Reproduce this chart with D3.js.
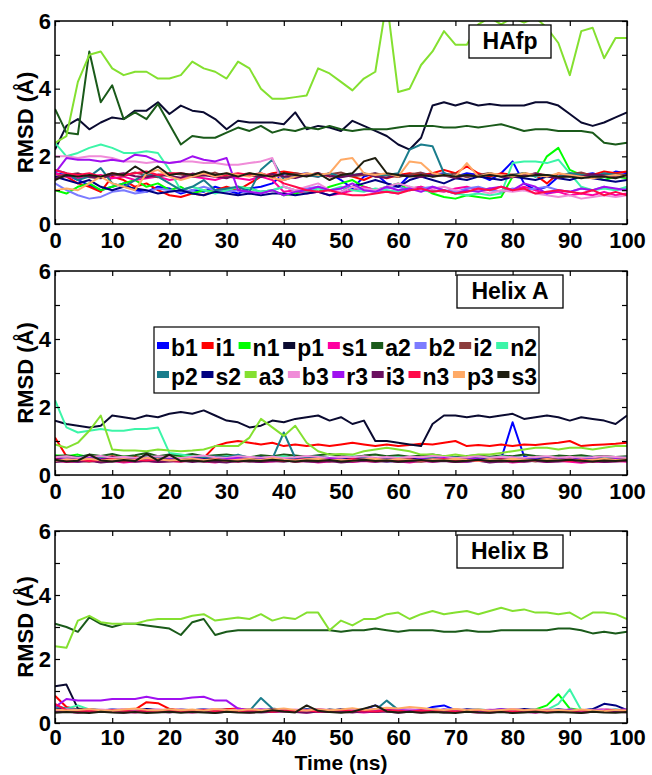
<!DOCTYPE html>
<html>
<head>
<meta charset="utf-8">
<script src="https://cdnjs.cloudflare.com/ajax/libs/d3/7.8.5/d3.min.js"></script>
<style>
	body { margin: 0; background: #fff; }
	svg { display: block; }
	text { font-family: "Liberation Sans", Arial, Helvetica, sans-serif; font-weight: bold; fill: #000; }
</style>
</head>
<body>
<svg id="rmsd-svg"></svg>
<script>
'use strict'

var timeNs = [0,2,4,6,8,10,12,14,16,18,20,22,24,26,28,30,32,34,36,38,40,42,44,46,48,50,52,54,56,58,60,62,64,66,68,70,72,74,76,78,80,82,84,86,88,90,92,94,96,98,100];
var xTicks = [0,10,20,30,40,50,60,70,80,90,100];
var yTicks = [0,1,2,3,4,5,6];
var yLabels = [0,2,4,6];
var panelTitles = ['HAfp', 'Helix A', 'Helix B'];

var seriesNames = ['b1','i1','n1','p1','s1','a2','b2','i2','n2','p2','s2','a3','b3','r3','i3','n3','p3','s3'];
var seriesColors = ['#0000ff','#ff0000','#00ff00','#0a0a30','#ff00a0','#1a5a1a','#7b7bff','#8c3c3c','#3cf5a8','#1a7d8c','#000080','#84e030','#f08cd8','#a010f0','#6b0f5f','#ff0a4a','#ffaa66','#1e1e10'];

// ---- HAfp ----
var hafp_b1 = [1.50,1.45,1.30,1.15,1.00,1.10,1.20,1.00,0.95,1.10, 1.05,0.90,1.00,0.95,1.10,1.00,0.90,1.05,1.10,1.20, 1.50,1.45,1.50,1.40,1.50,1.30,1.05,1.40,1.50,1.20, 1.10,1.45,1.50,1.45,1.50,1.40,1.50,1.45,1.30,1.50, 1.85,1.20,1.00,1.10,1.40,1.50,1.45,1.50,1.40,1.55, 1.50];
var hafp_i1 = [1.50,1.40,1.20,1.10,0.95,1.40,1.30,1.10,1.20,1.00, 0.85,0.80,0.90,0.85,1.00,1.10,1.00,1.20,1.40,1.50, 1.55,1.50,1.45,1.50,1.40,1.45,1.40,1.30,1.45,1.35, 1.45,1.50,1.45,1.50,1.60,1.50,1.70,1.50,1.40,1.50, 1.45,1.50,1.45,1.20,1.50,1.40,1.50,1.45,1.55,1.50, 1.55];
var hafp_n1 = [1.00,0.90,1.10,1.20,1.00,1.10,1.20,1.30,1.10,1.20, 1.00,1.10,0.90,1.00,0.95,1.00,1.10,1.05,0.95,1.00, 0.85,0.90,1.00,0.95,1.10,1.20,1.30,1.10,1.00,1.10, 1.20,1.00,1.10,0.90,0.80,0.75,0.85,0.80,0.75,0.80, 1.40,1.50,1.40,2.00,2.25,1.60,1.45,1.40,1.30,1.40, 1.35];
var hafp_p1 = [2.20,2.90,3.10,2.80,3.00,3.15,3.10,3.35,3.35,3.60, 3.25,3.50,3.35,3.30,3.10,2.80,3.05,3.00,3.00,3.00, 2.95,3.30,2.80,2.90,2.85,2.75,3.05,2.90,2.75,2.60, 2.35,2.20,2.55,3.50,3.60,3.50,3.60,3.50,3.55,3.50, 3.50,3.50,3.60,3.60,3.50,3.25,3.00,2.90,3.00,3.15, 3.30];
var hafp_s1 = [1.50,1.40,1.35,1.40,1.45,1.35,1.40,1.30,1.35,1.40, 1.30,1.35,1.40,1.35,1.30,1.40,1.35,1.30,1.40,1.30, 0.95,1.00,0.90,0.95,0.85,0.90,1.00,1.10,1.00,0.95, 0.90,1.05,1.10,1.00,0.95,1.05,1.10,1.00,1.05,0.95, 1.00,1.10,1.00,0.90,0.95,0.85,0.90,0.85,0.95,0.85, 0.90];
var hafp_a2 = [3.40,2.70,2.65,5.10,3.60,4.10,3.10,3.30,3.10,3.55, 2.95,2.35,2.60,2.55,2.55,2.70,2.85,2.75,2.90,2.70, 2.80,2.75,2.85,2.80,2.90,2.80,2.75,2.80,2.80,2.80, 2.85,2.90,2.90,2.90,2.85,2.85,2.90,2.85,2.90,2.95, 2.85,2.75,2.80,2.80,2.75,2.75,2.75,2.70,2.40,2.35, 2.40];
var hafp_b2 = [1.20,1.00,0.85,0.75,0.80,0.95,1.00,0.90,0.95,1.05, 1.00,0.95,1.00,1.10,1.00,0.95,1.00,0.90,0.95,1.00, 1.10,1.00,1.05,1.10,1.00,1.05,1.10,1.00,0.95,1.05, 1.10,1.00,1.05,1.10,1.00,0.95,1.05,1.10,1.00,0.95, 1.05,1.00,1.05,1.10,1.00,0.95,1.05,1.00,1.10,1.00, 1.05];
var hafp_i2 = [1.40,1.45,1.50,1.38,1.35,1.47,1.42,1.52,1.44,1.38, 1.50,1.46,1.40,1.43,1.52,1.39,1.45,1.50,1.41,1.46, 1.38,1.50,1.44,1.40,1.47,1.52,1.41,1.45,1.50,1.43, 1.39,1.46,1.52,1.40,1.44,1.49,1.38,1.45,1.51,1.42, 1.46,1.40,1.50,1.44,1.39,1.47,1.52,1.41,1.45,1.48, 1.43];
var hafp_n2 = [2.40,2.00,2.10,2.25,2.35,2.25,2.10,2.10,2.15,2.10, 1.60,1.00,1.10,1.00,0.90,1.00,1.10,1.05,0.95,1.00, 1.10,1.00,0.95,1.05,1.00,1.10,1.00,0.95,1.05,1.00, 0.95,1.10,1.00,0.95,1.00,0.90,0.85,0.90,0.85,0.90, 1.80,1.85,1.85,1.80,1.90,1.50,1.10,1.00,1.05,1.00, 1.10];
var hafp_p2 = [1.60,1.50,1.30,1.40,1.65,1.20,1.10,1.30,1.50,1.40, 1.20,1.00,1.10,1.30,1.00,1.05,1.10,0.95,1.60,1.90, 1.30,1.40,1.45,1.40,1.50,1.40,1.45,1.50,1.40,1.45, 1.50,2.20,2.35,2.30,1.50,1.40,1.45,1.40,1.50,1.40, 1.45,1.50,1.40,1.45,1.40,1.50,1.45,1.40,1.50,1.45, 1.40];
var hafp_s2 = [1.40,1.30,1.20,1.30,1.10,1.00,1.10,1.05,1.00,0.90, 0.95,1.00,0.90,0.85,0.95,0.90,0.85,0.90,0.85,0.90, 0.90,0.85,0.90,0.95,0.85,0.95,1.10,1.20,1.30,1.20, 1.10,1.30,1.40,1.30,1.20,1.35,1.30,1.40,1.35,1.30, 1.40,1.35,1.30,1.40,1.35,1.30,1.40,1.35,1.30,1.25, 1.30];
var hafp_a3 = [2.40,2.60,4.20,5.00,5.10,4.60,4.40,4.50,4.50,4.30, 4.30,4.40,4.80,4.60,4.50,4.30,4.80,4.60,4.00,3.70, 3.70,3.75,3.80,4.60,4.45,4.20,3.95,4.30,4.50,6.60, 3.90,4.00,4.70,5.10,5.70,5.30,5.30,5.90,6.10,5.90, 6.10,5.95,6.10,5.80,5.35,4.40,5.70,5.80,4.90,5.50, 5.50];
var hafp_b3 = [2.00,2.00,1.95,2.00,2.00,1.95,1.85,1.85,1.80,1.85, 1.80,1.85,1.85,1.80,1.80,1.75,1.75,1.80,1.85,1.95, 1.10,1.00,1.10,1.20,1.00,0.95,1.10,1.05,1.00,1.10, 1.20,1.10,1.00,1.05,1.10,1.00,0.95,1.00,0.90,1.00, 0.95,1.00,0.90,0.85,0.80,0.85,0.75,0.80,0.85,0.80, 0.85];
var hafp_r3 = [1.50,1.95,1.90,1.90,1.85,1.90,1.85,2.05,2.00,1.85, 1.80,1.85,2.00,1.90,1.85,1.95,1.00,0.95,0.90,1.00, 0.85,0.95,1.00,1.10,1.00,1.05,1.20,1.00,0.95,1.10, 1.00,1.05,0.95,1.10,1.00,0.90,1.00,0.95,1.05,1.10, 1.00,1.20,1.10,0.90,1.00,0.95,1.05,1.00,1.10,1.05, 1.00];
var hafp_i3 = [1.35,1.42,1.48,1.40,1.36,1.45,1.50,1.41,1.38,1.46, 1.42,1.37,1.49,1.44,1.40,1.35,1.47,1.43,1.39,1.48, 1.41,1.36,1.45,1.50,1.42,1.38,1.44,1.49,1.40,1.37, 1.46,1.42,1.39,1.48,1.43,1.36,1.45,1.41,1.47,1.40, 1.38,1.44,1.49,1.42,1.36,1.45,1.40,1.47,1.43,1.38, 1.42];
var hafp_n3 = [1.60,1.50,1.45,1.50,1.40,1.50,1.45,1.50,1.55,1.45, 1.50,1.50,1.45,1.50,1.40,1.45,1.50,1.45,1.50,1.40, 1.20,1.10,1.00,0.95,1.00,0.90,0.85,0.85,0.90,0.95, 0.90,1.00,1.05,0.95,1.00,0.90,0.95,1.05,1.00,1.10, 1.00,1.05,0.90,0.95,1.00,0.95,0.90,1.00,0.85,0.95, 0.85];
var hafp_p3 = [1.00,1.05,1.00,1.20,1.40,1.20,1.10,1.00,1.50,1.60, 1.40,1.30,1.40,1.50,1.40,1.50,1.45,1.40,1.50,1.35, 1.30,1.40,1.50,1.45,1.50,1.90,1.95,1.50,1.45,1.50, 1.40,1.85,1.80,1.50,1.45,1.40,1.80,1.40,1.50,1.45, 1.40,1.50,1.45,1.40,1.50,1.45,1.40,1.35,1.40,1.45, 1.40];
var hafp_s3 = [1.30,1.45,1.40,1.45,1.40,1.50,1.45,1.70,1.50,1.70, 1.45,1.50,1.45,1.55,1.45,1.50,1.40,1.50,1.45,1.40, 1.50,1.45,1.40,1.50,1.30,1.45,1.50,1.85,1.95,1.50, 1.45,1.40,1.45,1.40,1.45,1.40,1.45,1.40,1.45,1.40, 1.45,1.40,1.45,1.45,1.40,1.40,1.35,1.40,1.40,1.35, 1.45];

// ---- Helix A ----
var helixA_b1 = [0.45,0.42,0.40,0.44,0.41,0.43,0.40,0.45,0.42,0.44, 0.41,0.43,0.46,0.42,0.40,0.44,0.43,0.41,0.45,0.42, 0.44,0.40,0.43,0.45,0.42,0.41,0.44,0.46,0.43,0.40, 0.42,0.45,0.43,0.41,0.44,0.42,0.40,0.43,0.45,0.48, 1.55,0.55,0.42,0.44,0.41,0.43,0.40,0.42,0.44,0.41, 0.43];
var helixA_i1 = [1.10,0.55,0.50,0.52,0.48,0.55,0.50,0.53,0.49,0.51, 0.50,0.48,0.52,0.50,0.85,0.95,1.00,0.95,0.90,0.95, 0.85,0.90,0.85,0.90,0.85,0.90,0.95,0.90,0.85,0.90, 0.85,0.88,0.92,0.90,0.95,1.00,0.85,0.88,0.85,0.90, 0.85,0.90,0.88,0.92,0.95,1.00,0.85,0.88,0.90,0.92, 0.95];
var helixA_n1 = [0.58,0.55,0.60,0.52,0.50,0.48,0.55,0.50,0.52,0.48, 0.50,0.55,0.50,0.48,0.52,0.50,0.47,0.50,0.53,0.49, 0.50,0.47,0.52,0.50,0.48,0.51,0.53,0.49,0.50,0.47, 0.50,0.52,0.48,0.50,0.53,0.49,0.47,0.50,0.52,0.49, 0.51,0.48,0.50,0.53,0.49,0.47,0.50,0.52,0.48,0.50, 0.51];
var helixA_p1 = [1.60,1.50,1.45,1.40,1.45,1.75,1.70,1.65,1.75,1.70, 1.80,1.85,1.80,1.90,1.75,1.60,1.55,1.40,1.45,1.60, 1.55,1.65,1.70,1.75,1.60,1.70,1.50,1.60,1.00,1.00, 0.95,0.90,0.85,1.50,1.75,1.75,1.70,1.75,1.70,1.75, 1.80,1.65,1.70,1.75,1.70,1.60,1.70,1.65,1.60,1.50, 1.75];
var helixA_s1 = [0.42,0.38,0.40,0.43,0.39,0.41,0.37,0.40,0.42,0.38, 0.41,0.39,0.43,0.40,0.37,0.41,0.39,0.42,0.38,0.40, 0.43,0.39,0.41,0.37,0.40,0.42,0.38,0.41,0.39,0.43, 0.40,0.37,0.41,0.39,0.42,0.38,0.40,0.43,0.39,0.41, 0.37,0.40,0.42,0.38,0.41,0.39,0.36,0.40,0.38,0.41, 0.39];
var helixA_a2 = [0.55,0.58,0.52,0.60,0.56,0.62,0.54,0.58,0.65,0.55, 0.60,0.57,0.62,0.55,0.58,0.60,0.56,0.52,0.58,0.55, 0.60,0.57,0.54,0.58,0.62,0.56,0.53,0.57,0.60,0.55, 0.58,0.54,0.57,0.60,0.55,0.52,0.56,0.58,0.54,0.57, 0.55,0.60,0.56,0.53,0.57,0.55,0.58,0.54,0.56,0.53, 0.55];
var helixA_b2 = [0.48,0.45,0.43,0.47,0.44,0.46,0.42,0.45,0.48,0.44, 0.46,0.43,0.45,0.47,0.44,0.42,0.46,0.45,0.43,0.47, 0.44,0.46,0.48,0.43,0.45,0.47,0.44,0.42,0.46,0.45, 0.43,0.47,0.45,0.44,0.46,0.42,0.45,0.48,0.44,0.46, 0.43,0.45,0.47,0.44,0.42,0.46,0.45,0.43,0.47,0.44, 0.46];
var helixA_i2 = [0.40,0.43,0.41,0.39,0.44,0.42,0.40,0.43,0.41,0.45, 0.42,0.40,0.44,0.41,0.39,0.43,0.42,0.40,0.44,0.41, 0.43,0.39,0.42,0.44,0.40,0.43,0.41,0.45,0.42,0.40, 0.44,0.41,0.39,0.43,0.42,0.40,0.44,0.41,0.43,0.39, 0.42,0.44,0.40,0.43,0.41,0.45,0.42,0.40,0.44,0.41, 0.43];
var helixA_n2 = [2.20,1.40,1.25,1.30,1.35,1.30,1.30,1.35,1.35,1.40, 0.65,0.60,0.55,0.52,0.50,0.55,0.52,0.50,0.48,0.52, 0.55,0.50,0.53,0.48,0.50,0.52,0.55,0.50,0.47,0.50, 0.52,0.48,0.50,0.53,0.55,0.50,0.48,0.52,0.50,0.55, 0.52,0.50,0.48,0.52,0.50,0.47,0.50,0.53,0.50,0.48, 0.50];
var helixA_p2 = [0.50,0.48,0.52,0.55,0.50,0.47,0.52,0.50,0.55,0.52, 0.50,0.48,0.53,0.50,0.55,0.52,0.60,0.50,0.52,0.48, 1.25,0.50,0.52,0.55,0.50,0.48,0.52,0.50,0.47,0.52, 0.50,0.53,0.48,0.50,0.55,0.52,0.50,0.48,0.52,0.50, 0.53,0.50,0.48,0.52,0.50,0.47,0.50,0.52,0.48,0.50, 0.52];
var helixA_s2 = [0.50,0.47,0.45,0.49,0.46,0.52,0.48,0.45,0.50,0.47, 0.44,0.49,0.51,0.46,0.48,0.45,0.50,0.47,0.52,0.46, 0.49,0.45,0.48,0.51,0.47,0.44,0.50,0.48,0.46,0.52, 0.47,0.49,0.45,0.48,0.50,0.46,0.53,0.48,0.45,0.49, 0.52,0.47,0.45,0.50,0.48,0.46,0.49,0.52,0.47,0.45, 0.48];
var helixA_a3 = [0.90,0.80,0.95,1.30,1.75,0.75,0.72,0.72,0.70,0.75, 0.72,0.70,0.72,0.75,0.85,0.85,0.85,1.10,1.65,1.40, 1.15,1.45,0.95,0.70,0.60,0.62,0.60,0.70,0.75,0.80, 0.75,0.70,0.60,0.60,0.55,0.60,0.55,0.60,0.60,0.65, 0.70,0.75,0.80,0.80,0.75,0.80,0.80,0.75,0.80,0.85, 0.85];
var helixA_b3 = [0.52,0.55,0.50,0.53,0.56,0.51,0.54,0.50,0.52,0.55, 0.53,0.50,0.54,0.57,0.52,0.50,0.55,0.53,0.51,0.54, 0.50,0.52,0.56,0.53,0.50,0.54,0.52,0.55,0.51,0.53, 0.50,0.54,0.52,0.56,0.53,0.50,0.52,0.55,0.51,0.54, 0.52,0.50,0.53,0.55,0.51,0.54,0.50,0.52,0.55,0.53, 0.51];
var helixA_r3 = [0.45,0.48,0.44,0.50,0.46,0.43,0.47,0.45,0.49,0.44, 0.46,0.42,0.48,0.45,0.43,0.47,0.50,0.44,0.46,0.48, 0.43,0.45,0.47,0.44,0.49,0.46,0.42,0.45,0.48,0.44, 0.46,0.43,0.47,0.45,0.50,0.44,0.46,0.48,0.43,0.45, 0.47,0.44,0.46,0.42,0.45,0.48,0.44,0.46,0.43,0.47, 0.45];
var helixA_i3 = [0.38,0.41,0.39,0.42,0.37,0.40,0.43,0.39,0.41,0.38, 0.40,0.42,0.38,0.41,0.39,0.37,0.42,0.40,0.38,0.41, 0.39,0.43,0.40,0.38,0.41,0.37,0.40,0.42,0.39,0.41, 0.38,0.40,0.43,0.39,0.41,0.38,0.40,0.42,0.37,0.40, 0.41,0.39,0.42,0.38,0.40,0.43,0.39,0.41,0.38,0.40, 0.42];
var helixA_n3 = [0.46,0.43,0.45,0.41,0.44,0.47,0.42,0.45,0.43,0.46, 0.44,0.41,0.45,0.43,0.47,0.42,0.44,0.46,0.43,0.45, 0.41,0.44,0.46,0.42,0.45,0.43,0.47,0.44,0.41,0.45, 0.43,0.46,0.42,0.44,0.47,0.43,0.45,0.41,0.44,0.46, 0.42,0.45,0.43,0.47,0.44,0.41,0.45,0.43,0.46,0.42, 0.44];
var helixA_p3 = [0.42,0.46,0.44,0.48,0.43,0.45,0.47,0.44,0.50,0.46, 0.43,0.45,0.48,0.44,0.46,0.42,0.45,0.47,0.44,0.49, 0.45,0.43,0.46,0.48,0.44,0.45,0.42,0.46,0.48,0.44, 0.47,0.45,0.43,0.46,0.44,0.48,0.45,0.42,0.46,0.44, 0.48,0.45,0.43,0.47,0.44,0.46,0.42,0.45,0.48,0.44, 0.46];
var helixA_s3 = [0.45,0.40,0.42,0.60,0.43,0.40,0.44,0.41,0.62,0.42, 0.60,0.41,0.43,0.40,0.44,0.42,0.40,0.43,0.41,0.45, 0.42,0.40,0.43,0.41,0.44,0.40,0.42,0.45,0.41,0.43, 0.40,0.42,0.44,0.41,0.43,0.40,0.42,0.45,0.41,0.43, 0.40,0.42,0.44,0.41,0.43,0.45,0.42,0.40,0.43,0.41, 0.44];

// ---- Helix B ----
var helixB_b1 = [0.40,0.38,0.36,0.39,0.41,0.37,0.40,0.38,0.36,0.39, 0.41,0.38,0.40,0.37,0.39,0.42,0.38,0.36,0.40,0.38, 0.41,0.37,0.39,0.40,0.38,0.36,0.40,0.42,0.55,0.40, 0.38,0.41,0.37,0.50,0.55,0.40,0.38,0.36,0.39,0.41, 0.38,0.40,0.37,0.39,0.41,0.38,0.40,0.42,0.39,0.37, 0.40];
var helixB_i1 = [0.85,0.50,0.42,0.40,0.38,0.41,0.39,0.42,0.65,0.62, 0.44,0.40,0.38,0.41,0.39,0.43,0.45,0.40,0.38,0.41, 0.39,0.37,0.40,0.38,0.41,0.39,0.37,0.40,0.38,0.41, 0.39,0.37,0.40,0.38,0.36,0.39,0.41,0.38,0.40,0.37, 0.39,0.41,0.38,0.36,0.39,0.41,0.38,0.40,0.42,0.39, 0.41];
var helixB_n1 = [0.45,0.40,0.38,0.41,0.39,0.37,0.40,0.38,0.36,0.39, 0.41,0.38,0.40,0.37,0.39,0.38,0.36,0.40,0.38,0.41, 0.39,0.37,0.40,0.38,0.36,0.39,0.41,0.38,0.37,0.39, 0.41,0.38,0.36,0.39,0.40,0.38,0.37,0.39,0.41,0.38, 0.40,0.38,0.42,0.55,0.90,0.45,0.40,0.38,0.39,0.37, 0.40];
var helixB_p1 = [1.15,1.20,0.45,0.40,0.38,0.42,0.40,0.37,0.41,0.39, 0.42,0.38,0.40,0.43,0.39,0.41,0.38,0.40,0.42,0.39, 0.41,0.38,0.40,0.37,0.42,0.39,0.41,0.38,0.40,0.43, 0.39,0.41,0.38,0.40,0.37,0.42,0.39,0.41,0.38,0.40, 0.42,0.39,0.41,0.38,0.40,0.37,0.41,0.39,0.42,0.40, 0.38];
var helixB_s1 = [0.38,0.35,0.33,0.36,0.34,0.37,0.35,0.33,0.36,0.34, 0.37,0.35,0.33,0.36,0.38,0.34,0.35,0.33,0.36,0.34, 0.37,0.35,0.33,0.36,0.34,0.37,0.35,0.33,0.36,0.38, 0.34,0.35,0.33,0.36,0.34,0.37,0.35,0.33,0.36,0.34, 0.37,0.35,0.33,0.36,0.34,0.37,0.35,0.38,0.36,0.34, 0.37];
var helixB_a2 = [3.10,3.00,2.85,3.30,3.10,3.00,3.10,3.10,3.05,3.00, 2.95,2.75,3.15,3.25,2.75,2.85,2.90,2.90,2.90,2.90, 2.90,2.90,2.90,2.90,2.90,2.85,2.90,2.90,2.95,2.90, 2.85,2.90,2.90,2.90,2.85,2.85,2.90,2.85,2.85,2.90, 2.90,2.90,2.90,2.90,2.95,2.95,2.90,2.80,2.85,2.80, 2.85];
var helixB_b2 = [0.42,0.40,0.38,0.41,0.39,0.43,0.40,0.38,0.42,0.39, 0.41,0.38,0.40,0.43,0.39,0.41,0.38,0.42,0.40,0.37, 0.41,0.39,0.43,0.40,0.38,0.42,0.39,0.41,0.38,0.40, 0.43,0.39,0.41,0.38,0.42,0.40,0.37,0.41,0.39,0.43, 0.40,0.38,0.42,0.39,0.41,0.38,0.40,0.43,0.39,0.41, 0.38];
var helixB_i2 = [0.36,0.38,0.35,0.37,0.39,0.36,0.34,0.38,0.36,0.37, 0.35,0.39,0.36,0.38,0.34,0.37,0.36,0.38,0.35,0.37, 0.39,0.36,0.34,0.38,0.36,0.37,0.35,0.39,0.36,0.38, 0.34,0.37,0.36,0.38,0.35,0.37,0.39,0.36,0.34,0.38, 0.36,0.37,0.35,0.39,0.36,0.38,0.34,0.37,0.36,0.38, 0.35];
var helixB_n2 = [0.48,0.45,0.55,0.42,0.40,0.38,0.41,0.39,0.37,0.40, 0.38,0.41,0.39,0.37,0.40,0.38,0.36,0.39,0.41,0.38, 0.40,0.37,0.39,0.38,0.36,0.40,0.38,0.41,0.39,0.37, 0.40,0.38,0.36,0.39,0.41,0.38,0.40,0.37,0.39,0.38, 0.36,0.40,0.38,0.41,0.60,1.05,0.40,0.38,0.39,0.37, 0.40];
var helixB_p2 = [0.55,0.45,0.42,0.40,0.38,0.41,0.39,0.42,0.40,0.38, 0.41,0.39,0.37,0.40,0.42,0.39,0.41,0.38,0.78,0.45, 0.41,0.39,0.42,0.40,0.38,0.41,0.39,0.42,0.40,0.70, 0.41,0.39,0.42,0.40,0.38,0.41,0.39,0.42,0.40,0.38, 0.41,0.39,0.37,0.40,0.42,0.39,0.41,0.38,0.40,0.42, 0.39];
var helixB_s2 = [0.45,0.42,0.40,0.43,0.41,0.39,0.42,0.40,0.44,0.41, 0.39,0.42,0.40,0.38,0.43,0.41,0.39,0.42,0.40,0.44, 0.41,0.39,0.42,0.40,0.38,0.43,0.41,0.39,0.42,0.40, 0.44,0.41,0.39,0.42,0.40,0.38,0.43,0.41,0.39,0.42, 0.40,0.44,0.41,0.39,0.42,0.40,0.38,0.43,0.60,0.55, 0.40];
var helixB_a3 = [2.40,2.35,3.20,3.35,3.15,3.10,3.10,3.10,3.20,3.25, 3.25,3.25,3.35,3.40,3.20,3.25,3.30,3.25,3.40,3.20, 3.30,3.25,3.45,3.45,2.90,3.20,3.05,3.25,3.25,3.40, 3.45,3.25,3.40,3.50,3.40,3.45,3.50,3.40,3.50,3.60, 3.50,3.55,3.45,3.45,3.40,3.45,3.25,3.45,3.45,3.40, 3.25];
var helixB_b3 = [0.40,0.43,0.41,0.38,0.42,0.40,0.44,0.41,0.39,0.43, 0.40,0.42,0.38,0.41,0.44,0.40,0.42,0.39,0.43,0.41, 0.38,0.42,0.40,0.44,0.41,0.39,0.43,0.40,0.42,0.38, 0.41,0.44,0.40,0.42,0.39,0.43,0.41,0.38,0.42,0.40, 0.44,0.41,0.39,0.43,0.40,0.42,0.38,0.41,0.44,0.40, 0.42];
var helixB_r3 = [0.50,0.75,0.70,0.70,0.70,0.75,0.75,0.75,0.82,0.75, 0.75,0.75,0.80,0.82,0.70,0.70,0.45,0.40,0.42,0.39, 0.41,0.38,0.40,0.43,0.39,0.41,0.38,0.40,0.42,0.39, 0.41,0.38,0.40,0.37,0.42,0.39,0.41,0.38,0.40,0.43, 0.39,0.41,0.38,0.40,0.37,0.42,0.39,0.41,0.38,0.40, 0.42];
var helixB_i3 = [0.34,0.36,0.33,0.35,0.37,0.34,0.32,0.36,0.34,0.35, 0.33,0.37,0.34,0.36,0.32,0.35,0.34,0.36,0.33,0.35, 0.37,0.34,0.32,0.36,0.34,0.35,0.33,0.37,0.34,0.36, 0.32,0.35,0.34,0.36,0.33,0.35,0.37,0.34,0.32,0.36, 0.34,0.35,0.33,0.37,0.34,0.36,0.32,0.35,0.34,0.36, 0.33];
var helixB_n3 = [0.60,0.40,0.37,0.39,0.36,0.40,0.38,0.35,0.39,0.37, 0.40,0.36,0.38,0.41,0.37,0.39,0.36,0.40,0.38,0.35, 0.39,0.37,0.40,0.36,0.38,0.41,0.37,0.39,0.36,0.40, 0.38,0.35,0.39,0.37,0.40,0.36,0.38,0.41,0.37,0.39, 0.36,0.40,0.38,0.35,0.39,0.37,0.40,0.36,0.38,0.41, 0.37];
var helixB_p3 = [0.42,0.39,0.41,0.44,0.40,0.38,0.42,0.45,0.41,0.39, 0.43,0.40,0.42,0.38,0.44,0.41,0.39,0.43,0.40,0.42, 0.45,0.41,0.39,0.43,0.40,0.42,0.46,0.41,0.44,0.48, 0.45,0.50,0.47,0.43,0.41,0.44,0.40,0.42,0.38,0.41, 0.43,0.40,0.42,0.39,0.41,0.38,0.42,0.40,0.37,0.41, 0.39];
var helixB_s3 = [0.32,0.34,0.33,0.31,0.35,0.33,0.32,0.34,0.31,0.33, 0.35,0.32,0.34,0.33,0.31,0.35,0.33,0.32,0.34,0.40, 0.36,0.33,0.55,0.38,0.34,0.32,0.35,0.45,0.55,0.36, 0.33,0.35,0.32,0.34,0.33,0.31,0.35,0.33,0.32,0.34, 0.31,0.33,0.35,0.32,0.34,0.33,0.31,0.35,0.33,0.32, 0.34];

var WIDTH = 652,
	HEIGHT = 775,
	LEFT = 55,
	RIGHT = 627;

var panels = [
	{ title: panelTitles[0], top: 21, bottom: 224, boxX: 469, boxW: 82, pad: 8,
		series: [hafp_b1, hafp_i1, hafp_n1, hafp_p1, hafp_s1, hafp_a2, hafp_b2, hafp_i2, hafp_n2, hafp_p2, hafp_s2, hafp_a3, hafp_b3, hafp_r3, hafp_i3, hafp_n3, hafp_p3, hafp_s3] },
	{ title: panelTitles[1], top: 271, bottom: 475, boxX: 457, boxW: 106, pad: 8,
		series: [helixA_b1, helixA_i1, helixA_n1, helixA_p1, helixA_s1, helixA_a2, helixA_b2, helixA_i2, helixA_n2, helixA_p2, helixA_s2, helixA_a3, helixA_b3, helixA_r3, helixA_i3, helixA_n3, helixA_p3, helixA_s3] },
	{ title: panelTitles[2], top: 531, bottom: 723, boxX: 457, boxW: 106, pad: 6,
		series: [helixB_b1, helixB_i1, helixB_n1, helixB_p1, helixB_s1, helixB_a2, helixB_b2, helixB_i2, helixB_n2, helixB_p2, helixB_s2, helixB_a3, helixB_b3, helixB_r3, helixB_i3, helixB_n3, helixB_p3, helixB_s3] }
];

var svg = d3.select('#rmsd-svg')
	.attr('width', WIDTH)
	.attr('height', HEIGHT);

var x = d3.scaleLinear().domain([0, 100]).range([LEFT, RIGHT]);

function styleAxis(g) {
	g.attr('font-size', null).attr('font-family', null);
	g.select('.domain').remove();
	g.selectAll('.tick line').attr('stroke', '#000').attr('stroke-width', 1.2);
	g.selectAll('.tick text').style('font-size', '22px');
}

panels.forEach(function (p, pi) {

	var y = d3.scaleLinear().domain([0, 6]).range([p.bottom, p.top]);

	var g = svg.append('g').attr('class', 'panel');

	g.append('clipPath')
		.attr('id', 'clip' + pi)
		.append('rect')
		.attr('x', LEFT)
		.attr('y', p.top)
		.attr('width', RIGHT - LEFT)
		.attr('height', p.bottom - p.top);

	var line = d3.line()
		.x(function (d, i) { return x(timeNs[i]); })
		.y(function (d) { return y(d); });

	g.append('g')
		.attr('clip-path', 'url(#clip' + pi + ')')
		.selectAll('.series')
		.data(p.series)
		.enter()
		.append('path')
		.attr('class', 'series')
		.attr('d', function (d) { return line(d.slice(0, timeNs.length)); })
		.style('fill', 'none')
		.style('stroke', function (d, i) { return seriesColors[i]; })
		.style('stroke-width', 2)
		.style('stroke-linejoin', 'round');

	// axes, ticks pointing inward on all four sides
	g.append('g')
		.attr('transform', 'translate(0,' + p.bottom + ')')
		.call(d3.axisBottom(x).tickValues(xTicks).tickSize(-5).tickSizeOuter(0).tickPadding(p.pad))
		.call(styleAxis);

	g.append('g')
		.attr('transform', 'translate(0,' + p.top + ')')
		.call(d3.axisTop(x).tickValues(xTicks).tickSize(-5).tickSizeOuter(0).tickFormat(''))
		.call(styleAxis);

	g.append('g')
		.attr('transform', 'translate(' + LEFT + ',0)')
		.call(d3.axisLeft(y).tickValues(yTicks).tickSize(-5).tickSizeOuter(0).tickPadding(4)
			.tickFormat(function (d) { return yLabels.indexOf(d) >= 0 ? d : ''; }))
		.call(styleAxis);

	g.append('g')
		.attr('transform', 'translate(' + RIGHT + ',0)')
		.call(d3.axisRight(y).tickValues(yTicks).tickSize(-5).tickSizeOuter(0).tickFormat(''))
		.call(styleAxis);

	g.append('rect')
		.attr('x', LEFT)
		.attr('y', p.top)
		.attr('width', RIGHT - LEFT)
		.attr('height', p.bottom - p.top)
		.style('fill', 'none')
		.style('stroke', '#000')
		.style('stroke-width', 1.5);

	g.append('text')
		.attr('transform', 'translate(33,' + ((p.top + p.bottom) / 2) + ') rotate(-90)')
		.attr('text-anchor', 'middle')
		.style('font-size', '22px')
		.text('RMSD (Å)');

	// title box
	g.append('rect')
		.attr('x', p.boxX)
		.attr('y', p.top + 4)
		.attr('width', p.boxW)
		.attr('height', 33)
		.style('fill', '#fff')
		.style('stroke', '#000')
		.style('stroke-width', 1.3);

	g.append('text')
		.attr('x', p.boxX + p.boxW / 2)
		.attr('y', p.top + 28)
		.attr('text-anchor', 'middle')
		.style('font-size', '23px')
		.text(p.title);
});

svg.append('text')
	.attr('x', (LEFT + RIGHT) / 2)
	.attr('y', 770)
	.attr('text-anchor', 'middle')
	.style('font-size', '21px')
	.text('Time (ns)');

// legend in the Helix A panel
var legend = svg.append('g').attr('class', 'legend');

legend.append('rect')
	.attr('x', 154)
	.attr('y', 327)
	.attr('width', 385)
	.attr('height', 66)
	.style('fill', '#fff')
	.style('stroke', '#000')
	.style('stroke-width', 1.2);

var legendRows = [seriesNames.slice(0, 9), seriesNames.slice(9)];

legendRows.forEach(function (row, r) {
	var baseY = 356 + r * 29;
	var texts = row.map(function (name) {
		return legend.append('text')
			.attr('y', baseY)
			.style('font-size', '23px')
			.text(name);
	});
	var widths = texts.map(function (t) { return t.node().getComputedTextLength(); });
	var gap = (380 - d3.sum(widths) - row.length * 14) / (row.length - 1);
	var cx = 157;
	row.forEach(function (name, i) {
		legend.append('rect')
			.attr('x', cx)
			.attr('y', baseY - 14)
			.attr('width', 12)
			.attr('height', 7)
			.style('fill', seriesColors[seriesNames.indexOf(name)]);
		texts[i].attr('x', cx + 14);
		cx += 14 + widths[i] + gap;
	});
});

</script>
</body>
</html>
